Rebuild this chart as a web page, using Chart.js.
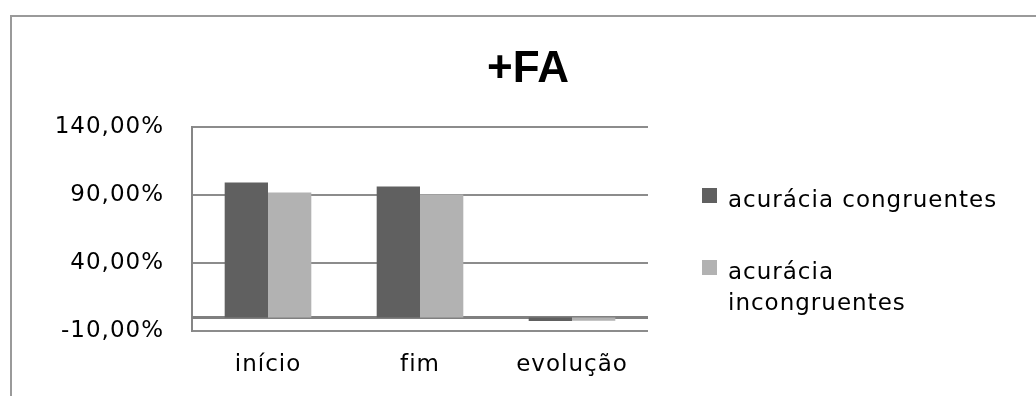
<!DOCTYPE html>
<html>
<head>
<meta charset="utf-8">
<script src="https://cdn.jsdelivr.net/npm/chart.js@4"></script>
<style>
html, body { margin: 0; padding: 0; background: #fff; }
#caixa { width: 1036px; height: 396px; position: relative; }
</style>
</head>
<body>
<div id="caixa"><canvas id="grafico"></canvas></div>
<script>
// dados
const titulo = '+FA';
const categorias = ['início', 'fim', 'evolução'];
const congruentes = [99.2, 96.2, -2.6];
const incongruentes = [91.8, 90.4, -2.4];
const series = ['acurácia congruentes', 'acurácia incongruentes'];
const cores = ['#606060', '#b2b2b2'];

const fonte = 'DejaVu Sans';
const espaco = '1px';

// moldura, linha do zero, título e legenda
const moldura = {
  id: 'moldura',
  beforeUpdate(chart) {
    chart.ctx.letterSpacing = espaco;
  },
  beforeDraw(chart) {
    const ctx = chart.ctx;
    ctx.letterSpacing = espaco;
    ctx.save();
    ctx.strokeStyle = '#9a9a9a';
    ctx.lineWidth = 2;
    ctx.beginPath();
    ctx.moveTo(11, chart.height);
    ctx.lineTo(11, 16);
    ctx.lineTo(chart.width, 16);
    ctx.stroke();
    ctx.restore();
  },
  beforeDatasetsDraw(chart) {
    const { ctx, chartArea, scales } = chart;
    const y0 = Math.round(scales.y.getPixelForValue(0)) + 0.5;
    ctx.save();
    ctx.strokeStyle = '#808080';
    ctx.lineWidth = 3;
    ctx.beginPath();
    ctx.moveTo(chartArea.left, y0);
    ctx.lineTo(chartArea.right, y0);
    ctx.stroke();
    ctx.restore();
  },
  afterDraw(chart) {
    const { ctx, chartArea } = chart;
    ctx.save();
    // título
    ctx.letterSpacing = '0px';
    ctx.font = 'bold 44px "Liberation Sans"';
    ctx.fillStyle = '#000';
    ctx.textAlign = 'center';
    ctx.textBaseline = 'alphabetic';
    ctx.fillText(titulo, (chart.width + 20) / 2, 82);

    // legenda
    ctx.letterSpacing = espaco;
    ctx.font = '23px "' + fonte + '"';
    ctx.textAlign = 'left';
    const x = chartArea.right + 54;
    const largura = 290;
    let base = 207;
    chart.data.datasets.forEach(ds => {
      ctx.fillStyle = ds.backgroundColor;
      ctx.fillRect(x, base - 19, 15, 15);
      ctx.fillStyle = '#000';
      // quebra de linha quando o texto não cabe
      const linhas = [];
      let atual = '';
      ds.label.split(' ').forEach(p => {
        const teste = atual ? atual + ' ' + p : p;
        if (atual && ctx.measureText(teste).width > largura) {
          linhas.push(atual);
          atual = p;
        } else {
          atual = teste;
        }
      });
      linhas.push(atual);
      linhas.forEach((l, i) => ctx.fillText(l, x + 26, base + i * 31));
      base += linhas.length * 31 + 41;
    });
    ctx.restore();
  }
};

const ctx = document.getElementById('grafico').getContext('2d');
new Chart(ctx, {
  type: 'bar',
  data: {
    labels: categorias,
    datasets: [{
      label: series[0],
      data: congruentes,
      backgroundColor: cores[0]
    }, {
      label: series[1],
      data: incongruentes,
      backgroundColor: cores[1]
    }]
  },
  options: {
    responsive: true,
    maintainAspectRatio: false,
    animation: false,
    categoryPercentage: 0.57,
    barPercentage: 1,
    layout: { padding: { left: 10, right: 388, top: 127, bottom: 0 } },
    plugins: {
      legend: { display: false },
      title: { display: false },
      tooltip: { enabled: false }
    },
    scales: {
      x: {
        grid: { display: false },
        border: { display: false },
        ticks: { color: '#000', font: { family: fonte, size: 23 }, padding: 12 },
        afterFit(s) { s.height = 65; }
      },
      y: {
        min: -10,
        max: 140,
        ticks: {
          stepSize: 50,
          padding: 28,
          color: '#000',
          font: { family: fonte, size: 23 },
          callback: v => v.toFixed(2).replace('.', ',') + '%'
        },
        grid: { color: '#8c8c8c', lineWidth: 2, drawTicks: false },
        border: { color: '#868686', width: 2 },
        afterFit(s) { s.width = 182; }
      }
    }
  },
  plugins: [moldura]
});
</script>
</body>
</html>
